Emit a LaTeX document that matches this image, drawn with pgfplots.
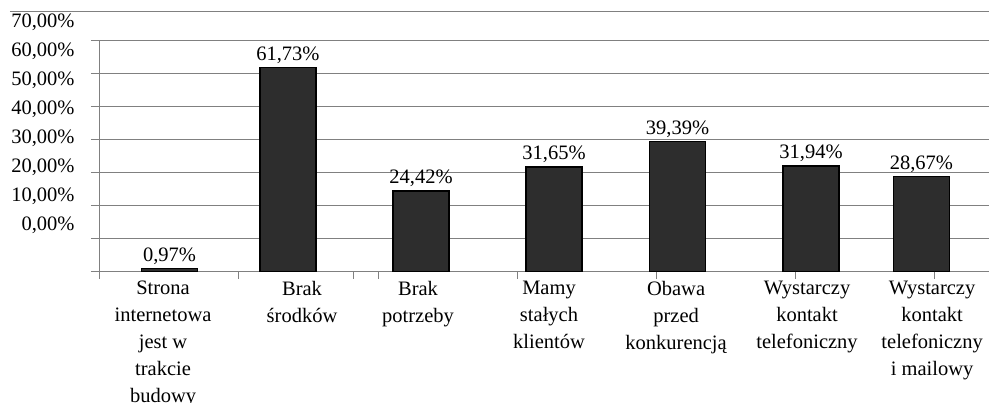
\documentclass[border=0pt]{standalone}
\usepackage{fontspec}
\setmainfont{Liberation Serif}
\usepackage{pgfplots}
\pgfplotsset{compat=1.18}
\definecolor{barfill}{RGB}{45,45,45}
\definecolor{gridgray}{RGB}{128,128,128}
\newcommand{\chartfont}{\fontsize{20.5}{27}\selectfont}
\begin{document}
\begin{tikzpicture}
\begin{axis}[
  scale only axis, width=889pt, height=259.7pt,
  xmin=-0.555, xmax=6.539, ymin=0, ymax=78.5,
  clip=false,
  axis line style={draw=none},
  ybar, bar width=56pt,
  % gridlines every 10% with short outside marks
  ytick={0,10,...,70}, yticklabels={},
  ymajorgrids, major grid style={gridgray, line width=1pt},
  ytick pos=left, tick align=outside, major tick length=9pt,
  ytick style={gridgray, line width=1pt},
  extra y ticks={14.1,22.9,31.6,40.4,49.2,57.9,66.7,75.4},
  extra y tick labels={{0,00\%},{10,00\%},{20,00\%},{30,00\%},{40,00\%},{50,00\%},{60,00\%},{70,00\%}},
  extra y tick style={grid=none, ytick style={draw=none},
    yticklabel style={xshift=-13pt}},
  /pgf/number format/assume math mode=true,
  % categories
  xtick={-0.052,1.057,1.983,3.028,4.042,5.087,6.085}, xtick pos=bottom,
  xtick style={draw=none},
  xticklabels={{Strona\\internetowa\\jest w\\trakcie\\budowy},{Brak\\środków},{Brak\\potrzeby},{Mamy\\stałych\\klientów},{Obawa\\przed\\konkurencją},{Wystarczy\\kontakt\\telefoniczny},{Wystarczy\\kontakt\\telefoniczny\\i mailowy}},
  xticklabel style={align=center, anchor=north, yshift=3pt},
  tick label style={font=\chartfont, text=black},
  nodes near coords, point meta=explicit symbolic,
  every node near coord/.append style={font=\chartfont, text=black},
]
\addplot[fill=barfill, draw=black, line width=1.2pt] coordinates {
  (0,0.97) [{0,97\%}]
  (0.945,61.73) [{61,73\%}]
  (2.007,24.42) [{24,42\%}]
  (3.068,31.65) [{31,65\%}]
  (4.054,39.39) [{39,39\%}]
  (5.119,31.94) [{31,94\%}]
  (6.0,28.67) [{28,67\%}]
};
% spines and category tick marks
\draw[gridgray, line width=1pt] (rel axis cs:0,0) -- (rel axis cs:0,0.8917);
\draw[gridgray, line width=1pt] ([xshift=-90pt]rel axis cs:0,1) -- (rel axis cs:1,1);
\pgfplotsinvokeforeach{-0.555,0.554,1.464,1.664,2.773,3.882,4.992,6.101}{
  \draw[gridgray, line width=1pt] (axis cs:#1,0) -- ([yshift=-7pt]axis cs:#1,0);
}
\coordinate (bl) at (rel axis cs:0,0);
\coordinate (tr) at (rel axis cs:1,1);
\end{axis}
\pgfresetboundingbox
\path[use as bounding box] ([xshift=-100pt,yshift=-131.3pt]bl) rectangle ([yshift=12pt]tr);
\end{tikzpicture}
\end{document}
